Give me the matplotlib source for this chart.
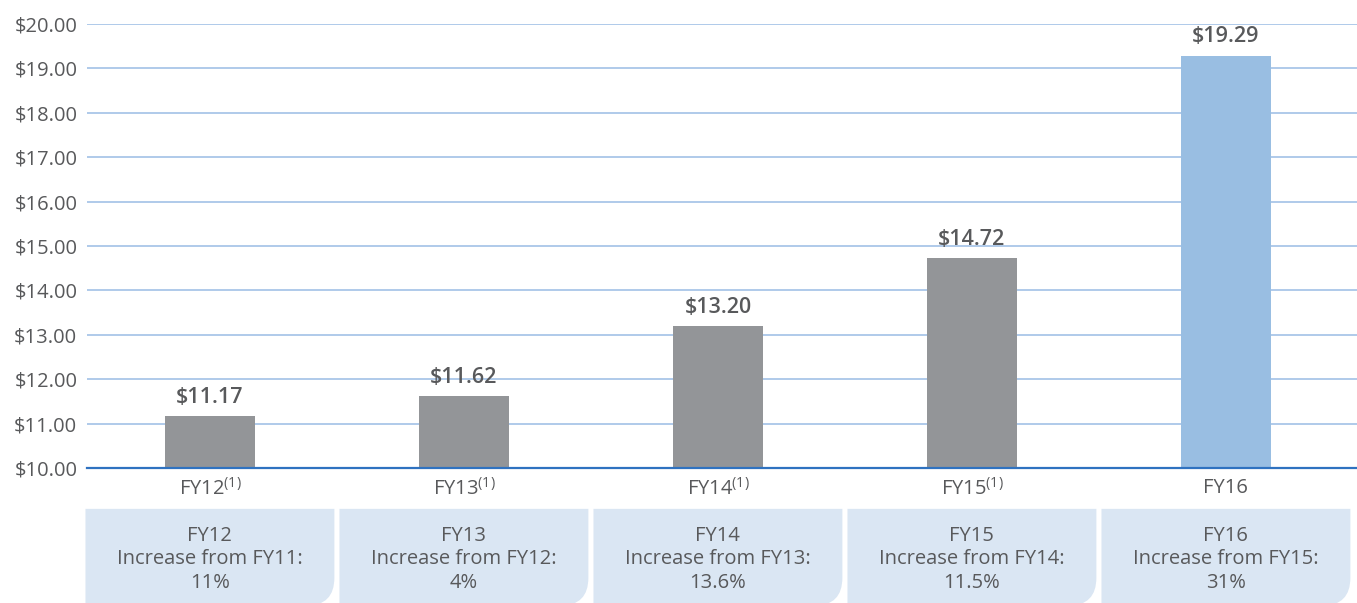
import numpy as np
import matplotlib.pyplot as plt
from matplotlib.path import Path
from matplotlib.patches import PathPatch
import matplotlib.transforms as mtransforms

plt.rcParams['font.family'] = ['Open Sans', 'DejaVu Sans']
plt.rcParams['mathtext.fontset'] = 'custom'
plt.rcParams['mathtext.rm'] = 'Open Sans'

# Data
years = ["FY12", "FY13", "FY14", "FY15", "FY16"]
footnoted = [True, True, True, True, False]
values = [11.17, 11.62, 13.20, 14.72, 19.29]
prev_years = ["FY11", "FY12", "FY13", "FY14", "FY15"]
increases = ["11%", "4%", "13.6%", "11.5%", "31%"]

grey = "#939598"
blue = "#99BEE2"
text_col = "#58595B"
grid_col = "#A9C6E8"
box_col = "#DAE6F3"

fig = plt.figure(figsize=(13.57, 6.03), dpi=100)
ax = fig.add_axes([87 / 1357, 1 - 468 / 603, 1 - 87 / 1357, 444 / 603])

x = np.arange(len(years))
colors = [grey] * (len(years) - 1) + [blue]
bars = ax.bar(x, [v - 10 for v in values], bottom=10, width=0.355, color=colors, zorder=3)

for xi, v in zip(x, values):
    ax.annotate(f"${v:.2f}", (xi, v), xytext=(0, 6), textcoords="offset points",
                ha="center", va="bottom", fontsize=15.5, fontweight="semibold", color=text_col)

ax.set_xlim(-0.484, len(years) - 0.484)
ax.set_ylim(10, 20)
ax.set_yticks(np.arange(10, 21, 1))
ax.set_yticklabels([f"${t:.2f}" for t in np.arange(10, 21, 1)])
ax.set_xticks(x)
ax.set_xticklabels([y + ("$^{\\mathrm{(1)}}$" if f else "") for y, f in zip(years, footnoted)])
ax.tick_params(axis="both", length=0, labelsize=14.5, colors=text_col)
ax.tick_params(axis="y", pad=7)
ax.tick_params(axis="x", pad=7)

ax.yaxis.grid(True, color=grid_col, lw=1.3, zorder=0)
for s in ["top", "right", "left"]:
    ax.spines[s].set_visible(False)
ax.spines["bottom"].set_color("#2F72C0")
ax.spines["bottom"].set_linewidth(1.6)
ax.spines["bottom"].set_zorder(4)

# Boxes under the axis, rounded bottom-right corner
trans = mtransforms.blended_transform_factory(ax.transData, ax.transAxes)
half = 0.49
top, bot = -0.092, -0.31
rx, ry = 28 / 254, 28 / 444
for xi, yr, pv, inc in zip(x, years, prev_years, increases):
    l, r = xi - half, xi + half
    verts = [(l, top), (r, top), (r, bot + ry), (r, bot), (r - rx, bot), (l, bot), (l, top)]
    codes = [Path.MOVETO, Path.LINETO, Path.LINETO, Path.CURVE3, Path.CURVE3, Path.LINETO, Path.CLOSEPOLY]
    patch = PathPatch(Path(verts, codes), transform=trans, facecolor=box_col, edgecolor="none", clip_on=False)
    ax.add_patch(patch)
    ax.text(xi, (top + bot) / 2 - 0.005, f"{yr}\nIncrease from {pv}:\n{inc}", transform=trans,
            ha="center", va="center", fontsize=14.5, color=text_col, linespacing=1.25)

fig.savefig("out.png", dpi=100)
